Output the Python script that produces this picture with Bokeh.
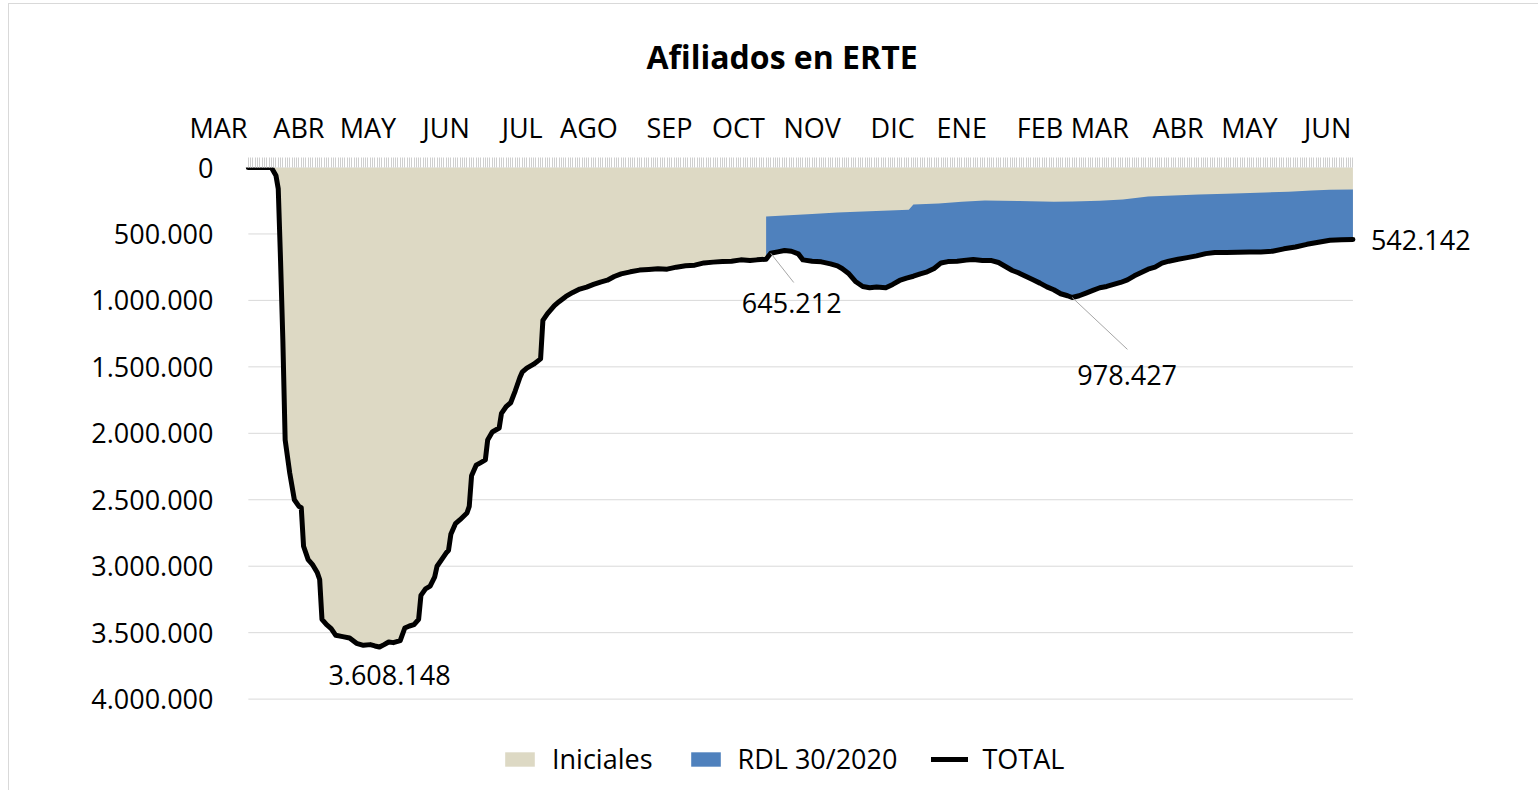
from bokeh.plotting import figure
from bokeh.models import Range1d, FixedTicker, Legend, LegendItem, Label
from bokeh.embed import file_html
from bokeh.resources import INLINE

# ---------------- data ----------------
month_labels = ["MAR", "ABR", "MAY", "JUN", "JUL", "AGO", "SEP", "OCT",
                "NOV", "DIC", "ENE", "FEB", "MAR", "ABR", "MAY", "JUN"]
month_tick_day = [-13, 22, 52, 86, 119, 148, 183, 213,
                  245, 280, 310, 344, 370, 404, 435, 469]
n_days = 480

y_ticks = [0, 500000, 1000000, 1500000, 2000000, 2500000, 3000000, 3500000, 4000000]
y_tick_labels = ["0", "500.000", "1.000.000", "1.500.000", "2.000.000",
                 "2.500.000", "3.000.000", "3.500.000", "4.000.000"]

total_day = [0, 10, 12, 13, 14, 15, 16, 18, 20, 22, 23, 24, 26, 28, 30, 31, 32, 34, 36, 38,
             41, 44, 47, 50, 53, 55, 57, 59, 61, 63, 66, 68, 70, 72, 74, 75, 77, 79, 81, 82,
             84, 86, 87, 88, 90, 92, 95, 96, 97, 99, 101, 103, 104, 106, 109, 110, 112, 114,
             116, 118, 119, 121, 124, 127, 128, 130, 133, 135, 138, 141, 144, 147, 150, 153,
             156, 159, 162, 166, 170, 174, 178, 182, 186, 190, 194, 198, 202, 206, 210, 214,
             218, 221, 225, 227, 230, 233, 236, 239, 241, 245, 249, 253, 256, 258, 261, 264,
             267, 270, 273, 277, 280, 283, 286, 289, 292, 295, 298, 301, 304, 308, 312, 315,
             319, 323, 326, 329, 332, 335, 338, 341, 344, 347, 350, 353, 356, 358, 361, 364,
             367, 370, 373, 376, 379, 382, 385, 388, 391, 394, 397, 400, 404, 408, 412, 416,
             420, 425, 430, 435, 440, 445, 450, 455, 460, 465, 470, 475, 480]
total_afiliados = [0, 0, 60000, 160000, 700000, 1300000, 2050000, 2300000, 2500000, 2550000,
                   2560000, 2850000, 2950000, 2990000, 3050000, 3100000, 3400000, 3440000,
                   3470000, 3520000, 3530000, 3540000, 3580000, 3595000, 3590000, 3600000,
                   3608148, 3590000, 3570000, 3575000, 3560000, 3465000, 3450000, 3440000,
                   3400000, 3220000, 3170000, 3150000, 3080000, 3000000, 2950000, 2900000,
                   2880000, 2760000, 2680000, 2650000, 2600000, 2550000, 2320000, 2240000,
                   2220000, 2200000, 2050000, 1990000, 1960000, 1850000, 1800000, 1770000,
                   1680000, 1580000, 1540000, 1510000, 1480000, 1440000, 1150000, 1100000,
                   1040000, 1010000, 970000, 940000, 915000, 900000, 880000, 862000, 848000,
                   820000, 800000, 785000, 772000, 767000, 762000, 765000, 750000, 740000,
                   735000, 718000, 712000, 708000, 705000, 695000, 700000, 695000, 690000,
                   645212, 635000, 625000, 630000, 650000, 695000, 705000, 710000, 725000,
                   740000, 760000, 800000, 860000, 895000, 905000, 900000, 905000, 880000,
                   850000, 832000, 818000, 800000, 785000, 760000, 718000, 708000, 705000,
                   697000, 692000, 700000, 700000, 715000, 745000, 775000, 795000, 820000,
                   845000, 870000, 898000, 920000, 950000, 965000, 978427, 965000, 945000,
                   925000, 905000, 895000, 880000, 865000, 845000, 815000, 790000, 765000,
                   750000, 720000, 705000, 690000, 678000, 665000, 648000, 640000, 640000,
                   638000, 636000, 635000, 630000, 612000, 598000, 578000, 563000, 548000,
                   543000, 542142]

# boundary between "Iniciales" and "RDL 30/2020" (Iniciales level) once RDL starts
iniciales_day = [225, 235, 245, 256, 270, 287, 289, 300, 310, 320, 335, 350, 358, 370, 380,
                 391, 402, 413, 425, 442, 452, 462, 470, 480]
iniciales_afiliados = [368000, 360000, 350000, 338000, 330000, 318000, 278000, 270000,
                       258000, 248000, 252000, 258000, 256000, 250000, 241000, 218000,
                       210000, 203000, 198000, 188000, 182000, 173000, 168000, 165000]

# ---------------- style ----------------
FONT = "Open Sans"
FS = "27px"
BEIGE = "#DDD9C4"
BLUE = "#4F81BD"
GRID = "#D9D9D9"

X_START, X_END = -26, 535          # room for the first month label and end label
Y_BOTTOM = 4650000                 # room for the legend under the 4.000.000 line

p = figure(frame_width=1291, frame_height=618,
           x_range=Range1d(X_START, X_END), y_range=Range1d(Y_BOTTOM, 0),
           x_axis_location="above",
           output_backend="svg", toolbar_location=None,
           min_border_left=179, min_border_right=60,
           min_border_top=163, min_border_bottom=5,
           title="Afiliados en ERTE")
p.styles = {"margin-left": "8px", "margin-top": "3px",
            "border-left": "1px solid #D9D9D9"}
p.outline_line_color = None
p.background_fill_color = "white"
p.border_fill_color = "white"

p.title.text_font = FONT
p.title.text_font_size = "32px"
p.title.text_font_style = "bold"
p.title.text_color = "black"
p.title.align = "left"
p.title.offset = 458
p.title.standoff = 56

# canvas top border line (the page keeps the chart's outer frame)
p.styles["border-top"] = "1px solid #D9D9D9"

# grid lines (only across the data span)
p.segment(x0=[0] * len(y_ticks), x1=[n_days] * len(y_ticks), y0=y_ticks, y1=y_ticks,
          line_color=GRID, line_width=1, level="underlay")

# areas
r_ini = p.varea(x=total_day, y1=0, y2=total_afiliados, fill_color=BEIGE)
rdl_start = iniciales_day[0]
patch_x = iniciales_day + [d for d in reversed(total_day) if d >= rdl_start]
patch_y = iniciales_afiliados + [v for d, v in reversed(list(zip(total_day, total_afiliados))) if d >= rdl_start]
r_rdl = p.patch(patch_x, patch_y, fill_color=BLUE, line_color=None)
r_tot = p.line(total_day, total_afiliados, line_color="black", line_width=5,
               line_join="round", line_cap="round")

# axes
xa = p.xaxis[0]
xa.ticker = FixedTicker(ticks=month_tick_day, minor_ticks=list(range(0, n_days + 1)))
xa.major_label_overrides = {d: m for d, m in zip(month_tick_day, month_labels)}
xa.major_tick_line_color = None
xa.major_tick_out = 0
xa.major_tick_in = 0
xa.minor_tick_in = 0
xa.minor_tick_out = 10
xa.minor_tick_line_color = "#CFCFCF"
xa.axis_line_color = None
xa.major_label_standoff = 12
xa.major_label_text_font = FONT
xa.major_label_text_font_size = FS
xa.major_label_text_color = "black"

ya = p.yaxis[0]
ya.ticker = FixedTicker(ticks=y_ticks)
ya.major_label_overrides = {t: l for t, l in zip(y_ticks, y_tick_labels)}
ya.major_tick_line_color = None
ya.minor_tick_line_color = None
ya.axis_line_color = None
ya.major_label_standoff = -31
ya.major_label_text_font = FONT
ya.major_label_text_font_size = FS
ya.major_label_text_color = "black"

p.xgrid.grid_line_color = None
p.ygrid.grid_line_color = None

# data labels
def fmt(v):
    return f"{v:,}".replace(",", ".")

i_min = total_afiliados.index(max(total_afiliados))
i_oct = total_day.index(rdl_start + 2)
i_feb = total_day.index(358)
i_end = len(total_day) - 1

def data_label(i, dx, dy, align="center"):
    p.add_layout(Label(x=total_day[i], y=total_afiliados[i], text=fmt(total_afiliados[i]),
                       x_offset=dx, y_offset=dy, text_font=FONT, text_font_size=FS,
                       text_align=align, text_baseline="middle", text_color="black"))

data_label(i_min, 10, -28)
data_label(i_oct, 21, -50)
data_label(i_feb, 55, -77)
data_label(i_end, 18, 0, "left")

# leader lines (offsets in day / value units)
p.segment(x0=[total_day[i_oct], total_day[i_feb]],
          y0=[total_afiliados[i_oct], total_afiliados[i_feb]],
          x1=[total_day[i_oct] + 10, total_day[i_feb] + 24],
          y1=[total_afiliados[i_oct] + 220000, total_afiliados[i_feb] + 390000],
          line_color="#A6A6A6", line_width=1)

legend = Legend(items=[LegendItem(label="Iniciales", renderers=[r_ini]),
                       LegendItem(label="RDL 30/2020", renderers=[r_rdl]),
                       LegendItem(label="TOTAL", renderers=[r_tot])],
                orientation="horizontal", location=(313, 8),
                glyph_width=37, glyph_height=18, label_standoff=14, spacing=34,
                padding=0, margin=0, border_line_color=None, background_fill_alpha=0,
                label_text_font=FONT, label_text_font_size=FS, label_text_color="black")
p.add_layout(legend, "center")

open("out.html", "w").write(file_html(p, INLINE))
